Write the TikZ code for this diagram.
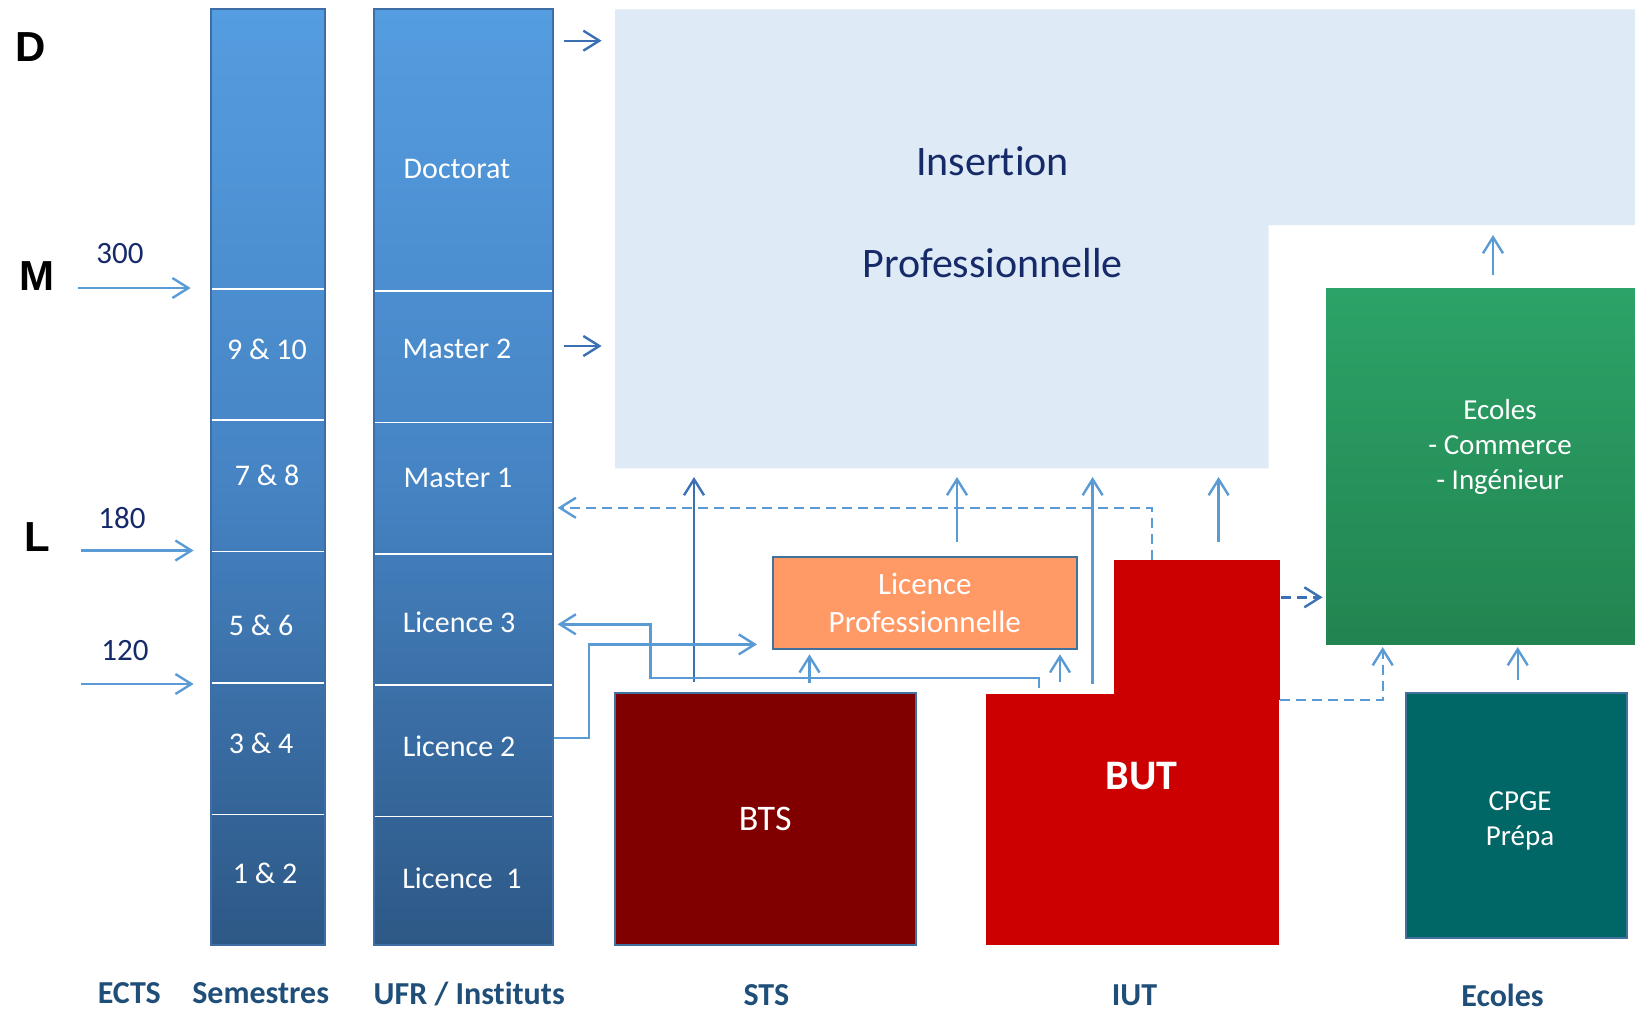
\documentclass[tikz,border=0pt]{standalone}
\usepackage{fontspec}
\setmainfont{Carlito}[Ligatures=NoCommon]
\newfontfamily\levelfont{Liberation Sans}
\usetikzlibrary{arrows.meta}

\definecolor{colTop}{RGB}{84,157,224}
\definecolor{colMid}{RGB}{70,132,196}
\definecolor{colBot}{RGB}{45,88,134}
\definecolor{colEdge}{RGB}{62,110,165}
\definecolor{insBlue}{RGB}{222,234,246}
\definecolor{navy}{RGB}{22,42,105}
\definecolor{steel}{RGB}{31,78,121}
\definecolor{lineLight}{RGB}{91,155,213}
\definecolor{lineDark}{RGB}{60,112,180}
\definecolor{lpOrange}{RGB}{255,153,102}
\definecolor{boxEdge}{RGB}{65,113,156}
\definecolor{btsRed}{RGB}{128,0,0}
\definecolor{butRed}{RGB}{204,0,0}
\definecolor{greenTop}{RGB}{44,163,104}
\definecolor{greenBot}{RGB}{34,132,80}
\definecolor{cpgeTeal}{RGB}{0,102,102}

\tikzstyle{column} = [rectangle, inner sep=0pt, minimum height=467.65pt, draw=colEdge, line width=1pt, top color=colTop, bottom color=colBot, middle color=colMid]
\tikzstyle{cell} = [text=white, font=\fontsize{15}{18}\selectfont]
\tikzstyle{divider} = [white, line width=0.8pt]
\tikzstyle{level} = [font=\levelfont\bfseries\fontsize{21}{25}\selectfont]
\tikzstyle{ects} = [text=navy, font=\fontsize{15.5}{18}\selectfont]
\tikzstyle{axis} = [text=steel, font=\bfseries\fontsize{16}{19}\selectfont]
\tikzstyle{block} = [rectangle, inner sep=0pt, text=white, align=center]
\tikzstyle{arrow} = [line width=1.2pt, lineLight, -{Straight Barb[length=8pt,width=10pt]}]
\tikzstyle{darrow} = [arrow, dash pattern=on 5pt off 3pt]

\begin{document}
\begin{tikzpicture}[x=0.5pt, y=-0.5pt]
\useasboundingbox (0,0) rectangle (1635,1012);

% columns
\node (sem) [column, minimum width=57.35pt] at (268,477.05) {};
\node (ufr) [column, minimum width=89.15pt] at (463.45,477.05) {};
\foreach \y in {288.8,420.2,551.6,683,814.3} \draw [divider] (211.6,\y) -- (324.3,\y);
\foreach \y in {290.9,422.3,553.7,685,816.4} \draw [divider] (375.3,\y) -- (551.6,\y);

\node (s910) [cell] at (267,349) {9 \& 10};
\node (s78) [cell] at (267,475.5) {7 \& 8};
\node (s56) [cell] at (261,625.6) {5 \& 6};
\node (s34) [cell] at (261,743.4) {3 \& 4};
\node (s12) [cell] at (265,873.8) {1 \& 2};

\node (doc) [cell] at (457,169) {Doctorat};
\node (m2) [cell] at (457,349) {Master 2};
\node (m1) [cell] at (458,477.6) {Master 1};
\node (l3) [cell] at (459,622.5) {Licence 3};
\node (l2) [cell] at (459,746.6) {Licence 2};
\node (l1) [cell] at (462,878) {Licence\ \ 1};

% levels and ECTS
\node (lvD) [level] at (31,47) {D};
\node (lvM) [level] at (36.5,276) {M};
\node (lvL) [level] at (37.5,537) {L};
\node (e300) [ects] at (120,254) {300};
\node (e180) [ects] at (122,518) {180};
\node (e120) [ects] at (125,651) {120};
\coordinate (c300) at (78,288);
\coordinate (c180) at (81,550.5);
\coordinate (c120) at (81,684);
\draw [arrow, shorten >=9.5pt] (c300) -- (c300 -| sem.west);
\draw [arrow, shorten >=8pt] (c180) -- (c180 -| sem.west);
\draw [arrow, shorten >=8pt] (c120) -- (c120 -| sem.west);

% insertion
\fill [insBlue] (615,9.4) -- (1635,9.4) -- (1635,225.2) -- (1268.6,225.2) -- (1268.6,468.3) -- (615,468.3) -- cycle;
\node (ins) [text=navy, align=center, font=\fontsize{21}{51}\selectfont] at (992.6,212.7) {Insertion\\Professionnelle};

% formations
\node (lp) [block, fill=lpOrange, draw=boxEdge, line width=1pt, minimum width=151.8pt, minimum height=46.3pt, font=\fontsize{15.5}{18.75}\selectfont] at (924.8,603) {Licence\\Professionnelle};
\node (bts) [block, fill=btsRed, draw=boxEdge, line width=1pt, minimum width=150.25pt, minimum height=125.65pt, font=\fontsize{18}{21}\selectfont] at (765.3,819) {BTS};
\node (butup) [block, fill=butRed, minimum width=83.4pt, minimum height=70pt] at (1197,630) {};
\node (butlow) [block, fill=butRed, minimum width=146.5pt, minimum height=125.15pt] at (1132.9,819.55) {};
\node (but) [text=white, font=\bfseries\fontsize{21}{25}\selectfont] at (1141.7,775.8) {BUT};
\node (ecoles) [block, top color=greenTop, bottom color=greenBot, minimum width=154.5pt, minimum height=178.35pt] at (1480.5,466.35) {};
\node (ecotext) [text=white, align=center, font=\fontsize{14.5}{17.5}\selectfont] at (1500,446.7) {Ecoles\\- Commerce\\- Ingénieur};
\node (cpge) [block, fill=cpgeTeal, draw=boxEdge, line width=1pt, minimum width=110.5pt, minimum height=122.5pt, font=\fontsize{14.5}{17.5}\selectfont] at (1516.1,815.9) {};
\node (cpgetext) [text=white, align=center, font=\fontsize{14.5}{17.5}\selectfont] at (1520,821) {CPGE\\Prépa};

% bottom titles
\node (tEcts) [axis] at (129.3,993.5) {ECTS};
\node (tSem) [axis] at (260.7,993.5) {Semestres};
\node (tUfr) [axis] at (469.2,993.5) {UFR / Instituts};
\node (tSts) [axis] at (766.4,995) {STS};
\node (tIut) [axis] at (1134.5,995) {IUT};
\node (tEco) [axis] at (1502.5,995) {Ecoles};

% connectors
\coordinate (udoc) at (601.6,40.7);
\coordinate (um2) at (601.6,346);
\draw [arrow, lineDark, shorten <=5pt] (ufr.east |- udoc) -- (udoc);
\draw [arrow, lineDark, shorten <=5pt] (ufr.east |- um2) -- (um2);

\coordinate (insBts) at (694,477);
\coordinate (insLp) at (957,477);
\coordinate (insBut) at (1092.6,477);
\coordinate (insBut2) at (1218.6,477);
\draw [arrow, lineDark, shorten <=5pt] (bts.north -| insBts) -- (insBts);
\draw [arrow, shorten <=7pt] (lp.north -| insLp) -- (insLp);
\draw [arrow, shorten <=5pt] (butlow.north -| insBut) -- (insBut);
\draw [arrow, shorten <=9pt] (butup.north -| insBut2) -- (insBut2);

\coordinate (bend1) at (1152,507.8);
\draw [darrow, shorten >=2pt] (butup.north -| bend1) -- (bend1) -- (bend1 -| ufr.east);

\coordinate (b3) at (1039,677.7);
\coordinate (k3) at (650.5,624.3);
\draw [arrow, shorten <=3pt, shorten >=2pt] (butlow.north -| b3) -- (b3) -- (b3 -| k3) -- (k3) -- (k3 -| ufr.east);

\coordinate (k2a) at (589,738);
\coordinate (k2) at (589,644.4);
\draw [arrow, shorten >=7.5pt] (ufr.east |- k2a) -- (k2a) -- (k2) -- (k2 -| lp.west);

\coordinate (lpa) at (809.5,660);
\coordinate (lpb) at (1060,660);
\draw [arrow, shorten <=4.5pt, shorten >=2pt] (bts.north -| lpa) -- (lp.south -| lpa);
\draw [arrow, shorten <=6pt, shorten >=2pt] (butlow.north -| lpb) -- (lp.south -| lpb);

\coordinate (g1) at (1300,597.3);
\coordinate (g2) at (1382.7,700);
\draw [darrow, lineDark, shorten >=1.5pt] (butup.east |- g1) -- (ecoles.west |- g1);
\draw [darrow, shorten >=1pt] (butlow.east |- g2) -- (g2) -- (g2 |- ecoles.south);

\coordinate (cg) at (1517.7,660);
\draw [arrow, shorten <=6pt, shorten >=1pt] (cpge.north -| cg) -- (ecoles.south -| cg);
\coordinate (gi) at (1493,235);
\draw [arrow, shorten <=6.5pt] (ecoles.north -| gi) -- (gi);

\end{tikzpicture}
\end{document}
